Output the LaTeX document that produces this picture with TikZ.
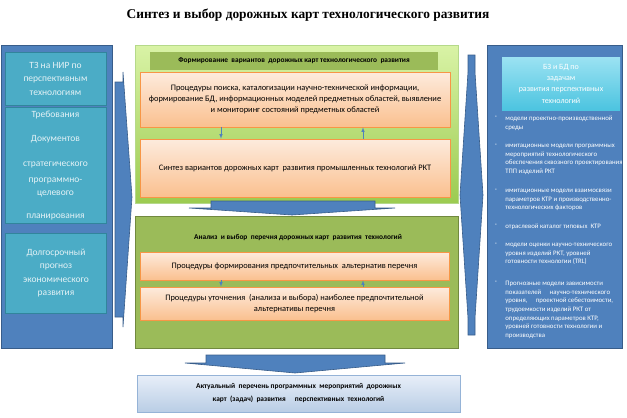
\documentclass[tikz,border=0pt]{standalone}
\usepackage{fontspec}
\setmainfont{Carlito}
\newfontfamily\titlefont{Liberation Serif}
\usepackage{tikz}
\usetikzlibrary{arrows}
\usetikzlibrary{shadows}
\usetikzlibrary{calc}
\definecolor{panelblue}{HTML}{4F81BD}
\definecolor{paneledge}{HTML}{385D8A}
\definecolor{tealbox}{HTML}{4BACC6}
\definecolor{tealedge}{HTML}{31859C}
\definecolor{tealtext}{HTML}{E4F2F6}
\definecolor{greentop}{HTML}{D9F3A6}
\definecolor{greenbot}{HTML}{9CCB50}
\definecolor{greenedge}{HTML}{B5D98A}
\definecolor{olive}{HTML}{9BBB59}
\definecolor{oliveedge}{HTML}{71893F}
\definecolor{peachtop}{HTML}{FDEBDD}
\definecolor{peachbot}{HTML}{FAC08F}
\definecolor{peachedge}{HTML}{F79646}
\definecolor{cyantop}{HTML}{9BE2F2}
\definecolor{cyanbot}{HTML}{4CC4E0}
\definecolor{skytop}{HTML}{E8EFF9}
\definecolor{skybot}{HTML}{B9CDE5}
\definecolor{skyedge}{HTML}{95B3D7}

\tikzset{
  bluepanel/.style={draw=paneledge, fill=panelblue, line width=0.8pt},
  tealcell/.style={draw=tealedge, fill=tealbox, line width=1pt, text=tealtext,
    align=center, font=\fontsize{9.5}{13.5}\selectfont},
  procbox/.style={draw=peachedge, line width=0.6pt, top color=peachtop, bottom color=peachbot,
    drop shadow={opacity=0.25,shadow xshift=1pt,shadow yshift=-1pt},
    align=center, font=\fontsize{8.4}{11}\selectfont},
  headbar/.style={fill=olive, font=\bfseries\fontsize{7.4}{9}\selectfont},
  blockarrow/.style={draw=paneledge, fill=panelblue, line width=0.6pt},
  bullettext/.style={anchor=north west, align=left, text=white, inner sep=0pt,
    font=\fontsize{6.8}{8.6}\selectfont}
}

\begin{document}
\begin{tikzpicture}[x=1pt,y=-1pt,thick]
\useasboundingbox (0,0) rectangle (627,418);
%%\draw[step=10pt,color=gray!50,dotted] (0,0) grid (627,418);

\node [font=\titlefont\bfseries\fontsize{13.4}{15}\selectfont] (title) at (308,15)
  {Синтез и выбор дорожных карт технологического развития};

% left column
\node [bluepanel, minimum width=111, minimum height=303] (lpanel) at (56.5,196.5) {};
\node [tealcell, minimum width=101, minimum height=53] (tz) at (55.5,78.5)
  {ТЗ на НИР по\\перспективным\\технологиям};
\node [tealcell, minimum width=101, minimum height=113] (treb) at (55.5,165.5)
  {Требования\\[10pt]Документов\\[12pt]стратегического\\[2pt]программно-\\целевого\\[9pt]планирования};
\node [tealcell, minimum width=101, minimum height=80] (prognoz) at (56,273)
  {Долгосрочный\\прогноз\\экономического\\развития};

\draw [blockarrow] (115,82) -- (123,82) -- (123,72) -- (132,197) -- (123,327) -- (123,317) -- (115,317) -- cycle;

% middle column
\node [draw=greenedge, line width=1pt, top color=greentop, bottom color=greenbot,
  minimum width=323, minimum height=158] (formpanel) at (296.5,124) {};
\node [headbar, minimum width=288, minimum height=18] (formhead) at (294,61)
  {Формирование \ вариантов \ дорожных карт технологического \ развития};
\node [procbox, minimum width=310, minimum height=55] (search) at (295,99.5)
  {Процедуры поиска, каталогизации научно-технической информации,\\
   формирование БД, информационных моделей предметных областей, выявление\\
   и мониторинг состояний предметных областей};
\node [procbox, minimum width=310, minimum height=58] (synth) at (295,168)
  {Синтез вариантов дорожных карт \ развития промышленных технологий РКТ};

\coordinate (dn) at (221,0);
\coordinate (up) at (363,0);
\draw [panelblue, line width=0.6pt, -latex] (search.south -| dn) -- (synth.north -| dn);
\draw [panelblue, line width=0.6pt, -latex] (synth.north -| up) -- (search.south -| up);

\draw [blockarrow] (211,201) -- (375,201) -- (375,208) -- (395,208) -- (292,215) -- (189,208) -- (211,208) -- cycle;

\node [draw=oliveedge, fill=olive, line width=1pt, minimum width=323, minimum height=132] (choicepanel) at (296.5,282) {};
\node [font=\bfseries\fontsize{7.4}{9}\selectfont] (choicehead) at (298,238)
  {Анализ \ и выбор \ перечня дорожных карт \ развития \ технологий};
\node [procbox, minimum width=309, minimum height=28] (alt) at (294.5,266)
  {Процедуры формирования предпочтительных \ альтернатив перечня};
\node [procbox, minimum width=309, minimum height=33] (refine) at (294.5,303.5)
  {Процедуры уточнения \ (анализа и выбора) наиболее предпочтительной\\альтернативы перечня};
\draw [panelblue, line width=0.6pt, -latex] (alt.south -| dn) -- (refine.north -| dn);
\draw [panelblue, line width=0.6pt, -latex] (refine.north -| up) -- (alt.south -| up);

\draw [blockarrow] (206,355) -- (385,355) -- (385,363) -- (405,363) -- (295,373) -- (185,363) -- (206,363) -- cycle;

\node [draw=skyedge, line width=0.6pt, top color=skytop, bottom color=skybot,
  drop shadow={opacity=0.25,shadow xshift=1pt,shadow yshift=-1pt},
  minimum width=323, minimum height=37, align=center,
  font=\bfseries\fontsize{7.4}{13}\selectfont] (result) at (298.5,393.5)
  {Актуальный \ перечень программных \ мероприятий \ дорожных\\
   карт \ (задач) \ развития \quad перспективных \ технологий};

% right column
\draw [blockarrow] (468,55) -- (475,55) -- (475,72) -- (483,195) -- (475,318) -- (475,335) -- (468,335)
  -- (468,318) -- (460,195) -- (468,72) -- cycle;

\node [bluepanel, minimum width=135, minimum height=303] (rpanel) at (554.5,196.5) {};
\node [top color=cyantop, bottom color=cyanbot, minimum width=118, minimum height=53,
  align=center, text=white, font=\fontsize{8}{11.3}\selectfont] (bzbd) at (561,83.5)
  {БЗ и БД по\\задачам\\развития перспективных\\технологий};

\foreach \i/\y/\txt in {
  1/116/{модели проектно-производственной\\среды},
  2/144/{имитационные модели программных\\мероприятий технологического\\обеспечения сквозного проектирования и\\ТПП изделий РКТ},
  3/189/{имитационные модели взаимосвязи\\параметров КТР и производственно-\\технологических факторов},
  4/224/{отраслевой каталог типовых \ КТР},
  5/243/{модели оценки научно-технического\\уровня изделий РКТ, уровней\\готовности технологии (TRL)},
  6/281/{Прогнозные модели зависимости\\ показателей \quad научно-технического\\ уровня, \quad проектной себестоимости,\\трудоемкости изделий РКТ от\\определяющих параметров КТР,\\уровней готовности технологии и\\производства}}
{
  \node [bullettext] (item\i) at (505,\y) {\txt};
  \node [text=white, inner sep=0pt, font=\fontsize{6.8}{8.6}\selectfont, anchor=north] (dash\i) at (496,\y) {-};
}
\end{tikzpicture}
\end{document}
